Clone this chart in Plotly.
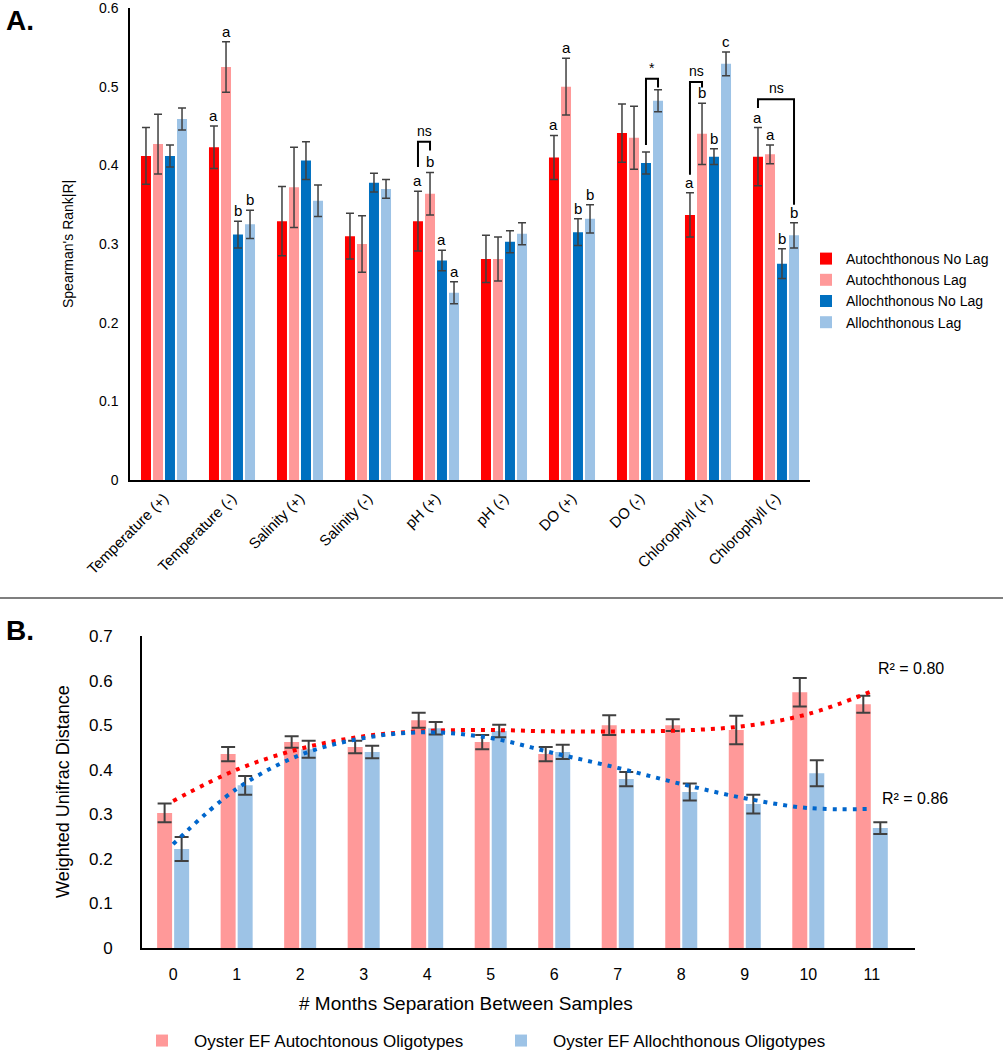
import plotly.graph_objs as go

# ---------------- Panel A : Spearman's Rank |R| ----------------
categories = ['Temperature (+)', 'Temperature (-)', 'Salinity (+)', 'Salinity (-)', 'pH (+)',
              'pH (-)', 'DO (+)', 'DO (-)', 'Chlorophyll (+)', 'Chlorophyll (-)']
series_names = ['Autochthonous No Lag', 'Autochthonous Lag', 'Allochthonous No Lag', 'Allochthonous Lag']

auto_nolag = [0.412, 0.423, 0.329, 0.310, 0.329, 0.281, 0.410, 0.441, 0.337, 0.411]
auto_nolag_err = [0.036, 0.027, 0.044, 0.029, 0.038, 0.030, 0.028, 0.037, 0.028, 0.037]
auto_lag = [0.427, 0.525, 0.372, 0.300, 0.364, 0.281, 0.500, 0.435, 0.440, 0.414]
auto_lag_err = [0.038, 0.032, 0.051, 0.036, 0.027, 0.028, 0.036, 0.040, 0.039, 0.012]
allo_nolag = [0.412, 0.312, 0.406, 0.378, 0.279, 0.303, 0.315, 0.403, 0.411, 0.275]
allo_nolag_err = [0.014, 0.017, 0.024, 0.012, 0.013, 0.014, 0.017, 0.014, 0.010, 0.019]
allo_lag = [0.459, 0.325, 0.355, 0.370, 0.238, 0.313, 0.332, 0.482, 0.529, 0.311]
allo_lag_err = [0.014, 0.018, 0.020, 0.012, 0.014, 0.014, 0.018, 0.014, 0.015, 0.016]

# lettres de significativité au-dessus de chaque barre
letters_auto_nolag = ['', 'a', '', '', 'a', '', 'a', '', 'a', 'a']
letters_auto_lag = ['', 'a', '', '', 'b', '', 'a', '', 'b', 'a']
letters_allo_nolag = ['', 'b', '', '', 'a', '', 'b', '', 'b', 'b']
letters_allo_lag = ['', 'b', '', '', 'a', '', 'b', '', 'c', 'b']

# crochets "ns" / "*" : catégorie, barre gauche, barre droite, texte
bracket_cat = [4, 7, 8, 9]
bracket_left = [0, 2, 0, 0]
bracket_right = [1, 3, 1, 3]
bracket_text = ['ns', '*', 'ns', 'ns']
bracket_y_left = [0.398, 0.426, 0.388, 0.473]
bracket_y_top = [0.430, 0.510, 0.506, 0.484]
bracket_y_right = [0.419, 0.499, 0.499, 0.350]

# ---------------- Panel B : Weighted Unifrac ----------------
months = [0, 1, 2, 3, 4, 5, 6, 7, 8, 9, 10, 11]
auto_b = [0.303, 0.435, 0.462, 0.451, 0.511, 0.462, 0.435, 0.500, 0.500, 0.489, 0.574, 0.547]
auto_b_err = [0.021, 0.016, 0.013, 0.014, 0.017, 0.016, 0.016, 0.022, 0.013, 0.032, 0.032, 0.019]
allo_b = [0.222, 0.365, 0.446, 0.440, 0.493, 0.487, 0.440, 0.379, 0.350, 0.323, 0.392, 0.269]
allo_b_err = [0.027, 0.021, 0.019, 0.014, 0.014, 0.014, 0.016, 0.016, 0.019, 0.021, 0.029, 0.013]
trend_auto = [0.330, 0.400, 0.447, 0.475, 0.487, 0.489, 0.486, 0.486, 0.488, 0.498, 0.525, 0.576]
trend_allo = [0.233, 0.357, 0.433, 0.471, 0.484, 0.471, 0.437, 0.404, 0.368, 0.336, 0.314, 0.312]
legend_b = ['Oyster EF Autochtonous Oligotypes', 'Oyster EF Allochthonous Oligotypes']

W, H = 1003, 1050
FONT = 'Liberation Sans, Arial, sans-serif'
ERR_COLOR = '#404040'


def px_x(p):
    return p / W


def px_y(p):
    return 1 - p / H


fig = go.Figure()

# barres du panneau A
values_a = [auto_nolag, auto_lag, allo_nolag, allo_lag]
errors_a = [auto_nolag_err, auto_lag_err, allo_nolag_err, allo_lag_err]
letters_a = [letters_auto_nolag, letters_auto_lag, letters_allo_nolag, letters_allo_lag]
colors_a = ['#FF0000', '#FF9999', '#0070C0', '#9DC3E6']
bar_w_a = 0.147
centers_a = [-0.265, -0.088, 0.088, 0.265]
x_a = list(range(len(categories)))

for k in range(4):
    fig.add_trace(go.Bar(
        x=x_a, y=values_a[k], name=series_names[k],
        width=bar_w_a, offset=centers_a[k] - bar_w_a / 2,
        marker=dict(color=colors_a[k], line=dict(width=0)),
        error_y=dict(type='data', array=errors_a[k], color=ERR_COLOR, thickness=1.5, width=4),
        xaxis='x', yaxis='y', legend='legend',
    ))

# barres du panneau B
bar_w_b = 0.236
centers_b = [-0.134, 0.134]
colors_b = ['#FF9999', '#9DC3E6']
for k, (vals, errs) in enumerate([(auto_b, auto_b_err), (allo_b, allo_b_err)]):
    fig.add_trace(go.Bar(
        x=months, y=vals, name=legend_b[k],
        width=bar_w_b, offset=centers_b[k] - bar_w_b / 2,
        marker=dict(color=colors_b[k], line=dict(width=0)),
        error_y=dict(type='data', array=errs, color=ERR_COLOR, thickness=2, width=7),
        xaxis='x2', yaxis='y2', legend='legend2',
    ))

# courbes de tendance pointillées
for trend, col in [(trend_auto, '#FF0000'), (trend_allo, '#0066CC')]:
    fig.add_trace(go.Scatter(
        x=months, y=trend, mode='lines', line=dict(color=col, width=4, dash='4px,6px', shape='spline'),
        showlegend=False, hoverinfo='skip', xaxis='x2', yaxis='y2',
    ))

annotations = []
shapes = []

# lettres
for k in range(4):
    for i, t in enumerate(letters_a[k]):
        if t:
            annotations.append(dict(
                x=i + centers_a[k], y=values_a[k][i] + errors_a[k][i], xref='x', yref='y',
                text=t, showarrow=False, yanchor='bottom', font=dict(size=15)))

# crochets
for j in range(len(bracket_cat)):
    xl = bracket_cat[j] + centers_a[bracket_left[j]]
    xr = bracket_cat[j] + centers_a[bracket_right[j]]
    shapes.append(dict(
        type='path', xref='x', yref='y',
        path=f'M{xl},{bracket_y_left[j]} L{xl},{bracket_y_top[j]} L{xr},{bracket_y_top[j]} L{xr},{bracket_y_right[j]}',
        line=dict(color='black', width=2)))
    annotations.append(dict(
        x=(xl + xr) / 2, y=bracket_y_top[j], xref='x', yref='y', text=bracket_text[j],
        showarrow=False, yanchor='bottom', yshift=1, font=dict(size=14)))

# séparateur entre les deux panneaux
shapes.append(dict(type='line', xref='paper', yref='paper', x0=0, x1=1,
                   y0=px_y(598), y1=px_y(598), line=dict(color='black', width=1.2)))

# titres et étiquettes de panneaux
annotations += [
    dict(x=px_x(4), y=px_y(3), xref='paper', yref='paper', text='<b>A.</b>', showarrow=False,
         xanchor='left', yanchor='top', font=dict(size=28)),
    dict(x=px_x(4), y=px_y(613), xref='paper', yref='paper', text='<b>B.</b>', showarrow=False,
         xanchor='left', yanchor='top', font=dict(size=28)),
    dict(x=px_x(68), y=px_y(244), xref='paper', yref='paper', text="Spearman's Rank|R|",
         showarrow=False, textangle=-90, xanchor='center', yanchor='middle', font=dict(size=14)),
    dict(x=px_x(63), y=px_y(792), xref='paper', yref='paper', text='Weighted Unifrac Distance',
         showarrow=False, textangle=-90, xanchor='center', yanchor='middle', font=dict(size=18)),
    dict(x=px_x(466), y=px_y(1003), xref='paper', yref='paper', text='# Months Separation Between Samples',
         showarrow=False, xanchor='center', yanchor='middle', font=dict(size=19)),
    dict(x=11.0, y=trend_auto[-1], xref='x2', yref='y2', text='R² = 0.80', showarrow=False,
         xanchor='left', yanchor='bottom', xshift=4, yshift=12, font=dict(size=16)),
    dict(x=11.0, y=trend_allo[-1], xref='x2', yref='y2', text='R² = 0.86', showarrow=False,
         xanchor='left', yanchor='bottom', xshift=8, yshift=0, font=dict(size=16)),
]

fig.update_layout(
    width=W, height=H,
    margin=dict(l=0, r=0, t=0, b=0, autoexpand=False),
    paper_bgcolor='white', plot_bgcolor='white',
    font=dict(family=FONT, color='black', size=14),
    barmode='group',
    xaxis=dict(domain=[px_x(130), px_x(810)], range=[-0.5, 9.5], tickvals=x_a, ticktext=categories,
               tickangle=-45, tickfont=dict(size=15), showline=True, linecolor='black', linewidth=1.5,
               ticks='outside', ticklen=2, tickcolor='rgba(0,0,0,0)', showgrid=False, zeroline=False,
               anchor='y'),
    yaxis=dict(domain=[px_y(480), px_y(8)], range=[0, 0.6], tickvals=[0, 0.1, 0.2, 0.3, 0.4, 0.5, 0.6],
               ticktext=['0', '0.1', '0.2', '0.3', '0.4', '0.5', '0.6'], tickfont=dict(size=14),
               showline=True, linecolor='black', linewidth=1.5, ticks='outside', ticklen=7,
               tickcolor='rgba(0,0,0,0)', showgrid=False, zeroline=False, anchor='x',
               ticklabeloverflow='allow'),
    xaxis2=dict(domain=[px_x(142), px_x(915)], range=[-0.49, 11.68], tickvals=months,
                ticktext=[str(m) for m in months], tickfont=dict(size=16), showline=True,
                linecolor='black', linewidth=2, ticks='outside', ticklen=11,
                tickcolor='rgba(0,0,0,0)', showgrid=False, zeroline=False, anchor='y2'),
    yaxis2=dict(domain=[px_y(948), px_y(636)], range=[0, 0.7],
                tickvals=[0, 0.1, 0.2, 0.3, 0.4, 0.5, 0.6, 0.7],
                ticktext=['0', '0.1', '0.2', '0.3', '0.4', '0.5', '0.6', '0.7'], tickfont=dict(size=17),
                showline=True, linecolor='black', linewidth=2, ticks='outside', ticklen=24,
                tickcolor='rgba(0,0,0,0)', showgrid=False, zeroline=False, anchor='x2'),
    legend=dict(x=px_x(806), y=px_y(243), xanchor='left', yanchor='top', font=dict(size=14),
                bgcolor='rgba(0,0,0,0)', itemclick=False),
    legend2=dict(x=px_x(130), y=px_y(1041), xanchor='left', yanchor='middle', orientation='h',
                 font=dict(size=17), entrywidth=290, entrywidthmode='pixels', itemwidth=54,
                 bgcolor='rgba(0,0,0,0)'),
    annotations=annotations,
    shapes=shapes,
)

# la page html a une marge de 8px par défaut : on la supprime
fig.write_html("out.html", config={'displayModeBar': False},
               post_script="document.body.style.margin = '0px';")
